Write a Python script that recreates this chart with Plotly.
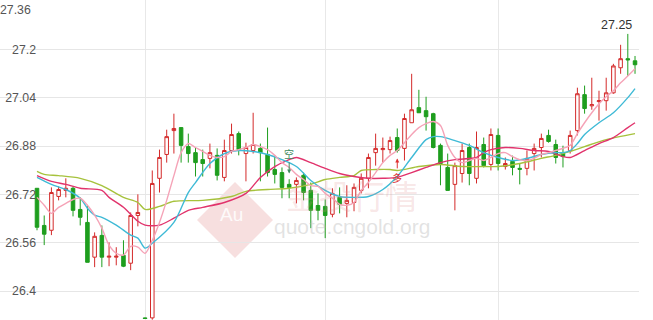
import plotly.graph_objects as go

# ---------------- data ----------------
idx = list(range(84))
opens = [26.740,26.617,26.601,26.713,26.733,26.740,26.670,26.627,26.512,26.584,
         26.512,26.512,26.518,26.492,26.650,26.311,26.311,26.773,26.852,26.931,
         26.941,26.878,26.858,26.835,26.839,26.849,26.776,26.865,26.921,26.855,
         26.865,26.872,26.852,26.802,26.792,26.753,26.753,26.783,26.733,26.683,
         26.680,26.654,26.710,26.690,26.693,26.733,26.773,26.858,26.868,26.868,
         26.908,26.872,26.957,27.007,26.997,26.987,26.882,26.809,26.753,26.789,
         26.875,26.773,26.885,26.819,26.915,26.812,26.829,26.806,26.806,26.855,
         26.875,26.915,26.885,26.858,26.865,26.931,27.050,27.013,27.027,27.030,
         27.056,27.139,27.169,27.162]
highs = [26.740,26.650,26.743,26.746,26.773,26.746,26.710,26.683,26.594,26.617,
         26.561,26.545,26.568,26.660,26.720,26.312,26.799,26.868,26.934,26.987,
         26.941,26.921,26.875,26.868,26.888,26.872,26.901,26.954,26.928,26.891,
         26.990,26.888,26.941,26.849,26.809,26.770,26.776,26.792,26.759,26.723,
         26.703,26.740,26.743,26.750,26.756,26.789,26.855,26.921,26.908,26.911,
         26.938,26.987,27.119,27.066,27.043,26.990,26.888,26.855,26.825,26.888,
         26.888,26.928,26.908,26.938,26.938,26.842,26.848,26.822,26.865,26.888,
         26.921,26.934,26.901,26.881,26.931,27.073,27.080,27.106,27.063,27.106,
         27.152,27.215,27.251,27.178]
lows = [26.601,26.552,26.585,26.700,26.710,26.647,26.617,26.495,26.479,26.479,
        26.482,26.485,26.479,26.469,26.614,26.309,26.305,26.726,26.825,26.855,
        26.825,26.825,26.779,26.779,26.806,26.766,26.763,26.855,26.849,26.763,
        26.855,26.763,26.779,26.756,26.707,26.707,26.690,26.700,26.608,26.634,
        26.575,26.644,26.657,26.644,26.664,26.723,26.740,26.815,26.825,26.855,
        26.858,26.832,26.957,26.990,26.931,26.872,26.750,26.733,26.667,26.759,
        26.750,26.756,26.809,26.799,26.799,26.802,26.783,26.753,26.783,26.799,
        26.842,26.891,26.822,26.809,26.855,26.915,26.987,27.000,26.964,26.997,
        27.053,27.119,27.112,27.119]
closes = [26.611,26.588,26.726,26.736,26.740,26.667,26.644,26.495,26.581,26.512,
          26.515,26.515,26.482,26.650,26.660,26.309,26.756,26.842,26.911,26.938,
          26.882,26.855,26.825,26.822,26.858,26.783,26.865,26.918,26.868,26.875,
          26.885,26.858,26.792,26.786,26.743,26.743,26.766,26.726,26.667,26.667,
          26.650,26.723,26.687,26.700,26.743,26.773,26.842,26.872,26.872,26.898,
          26.865,26.971,27.000,26.990,26.977,26.875,26.822,26.733,26.815,26.865,
          26.789,26.875,26.815,26.918,26.822,26.822,26.809,26.803,26.839,26.872,
          26.905,26.895,26.842,26.845,26.915,27.053,27.004,27.017,27.030,27.056,
          27.145,27.169,27.165,27.149]

ma_pink_idx = list(range(84))
ma_pink = [26.710,26.684,26.657,26.677,26.690,26.703,26.707,26.684,26.651,26.608,
           26.552,26.525,26.519,26.548,26.545,26.525,26.568,26.627,26.700,26.782,
           26.858,26.888,26.875,26.862,26.849,26.842,26.845,26.862,26.868,26.875,
           26.885,26.878,26.868,26.849,26.825,26.809,26.786,26.769,26.749,26.746,
           26.723,26.707,26.687,26.684,26.693,26.733,26.759,26.792,26.825,26.849,
           26.865,26.891,26.918,26.941,26.954,26.961,26.948,26.882,26.842,26.825,
           26.832,26.839,26.832,26.842,26.855,26.858,26.845,26.835,26.832,26.839,
           26.852,26.858,26.865,26.872,26.882,26.921,26.957,26.990,27.020,27.043,
           27.063,27.089,27.112,27.136]

ma_cyan_idx = [0,2,4,6,7,8,9,11,13,14,15,16,19,21,22,24,26,28,30,32,34,36,38,40,42,
               44,46,48,50,52,54,55,56,58,60,62,64,66,68,70,72,73,74,75,76,78,80,82,83]
ma_cyan = [26.776,26.753,26.736,26.707,26.674,26.651,26.644,26.618,26.585,26.575,
           26.542,26.558,26.627,26.726,26.759,26.822,26.855,26.865,26.862,26.852,
           26.835,26.812,26.766,26.733,26.713,26.710,26.713,26.736,26.779,26.842,
           26.901,26.911,26.911,26.898,26.882,26.858,26.842,26.832,26.839,26.852,
           26.858,26.858,26.865,26.888,26.918,26.957,26.990,27.040,27.070]

ma_red_idx = [0,2,4,6,9,10,12,14,15,17,19,21,23,26,29,31,33,35,36,38,40,42,44,46,48,
              50,52,54,56,58,61,62,63,65,67,69,71,73,74,76,78,80,82,83]
ma_red = [26.782,26.763,26.753,26.740,26.733,26.710,26.677,26.631,26.618,26.618,
          26.641,26.667,26.677,26.693,26.723,26.776,26.812,26.835,26.842,26.825,
          26.806,26.789,26.779,26.773,26.773,26.776,26.792,26.809,26.825,26.835,
          26.842,26.858,26.868,26.875,26.872,26.865,26.862,26.845,26.842,26.865,
          26.888,26.908,26.941,26.957]

ma_olive_idx = [0,1,3,6,9,12,14,15,17,19,23,27,29,32,35,38,40,42,44,45,47,49,50,53,
                56,59,62,64,67,70,72,74,76,79,83]
ma_olive = [26.796,26.786,26.782,26.773,26.749,26.710,26.693,26.670,26.680,26.697,
            26.700,26.713,26.730,26.736,26.740,26.753,26.769,26.776,26.782,26.799,
            26.802,26.802,26.799,26.812,26.819,26.812,26.812,26.812,26.822,26.839,
            26.849,26.862,26.878,26.901,26.921]

ytick_vals = [26.4, 26.56, 26.72, 26.88, 27.04, 27.2, 27.36]
ytick_text = ["26.4", "26.56", "26.72", "26.88", "27.04", "27.2", ""]
vgrid_idx = [15, 40, 64]

RED = "#d42a2a"
GREEN = "#1e9e1e"

# ---------------- figure ----------------
W, H = 653, 320
PW = 639  # plot area width (px)

fig = go.Figure()
fig.add_trace(go.Candlestick(
    x=idx, open=opens, high=highs, low=lows, close=closes,
    increasing=dict(line=dict(color=RED, width=1), fillcolor="white"),
    decreasing=dict(line=dict(color=GREEN, width=1), fillcolor=GREEN),
    whiskerwidth=0, hoverinfo="skip", showlegend=False))

for xs, ys, col in [(ma_olive_idx, ma_olive, "#a6c23c"),
                    (ma_red_idx, ma_red, "#e1336c"),
                    (ma_cyan_idx, ma_cyan, "#3fbad6"),
                    (ma_pink_idx, ma_pink, "#f5a3b7")]:
    fig.add_trace(go.Scatter(x=xs, y=ys, mode="lines",
                             line=dict(color=col, width=1.4, shape="spline", smoothing=0.8),
                             hoverinfo="skip", showlegend=False))

def px(x):
    return x / PW

def py(y):
    return 1 - y / H

shapes = [dict(type="path", xref="paper", yref="paper", layer="below",
               path=f"M {px(197)} {py(220)} L {px(235)} {py(182)} L {px(273)} {py(220)} L {px(235)} {py(258)} Z",
               fillcolor="rgba(228,150,150,0.30)", line=dict(width=0))]

TICKFONT = dict(size=12.3, color="#555555", family="Liberation Sans, Arial")

imax = highs.index(max(highs))
annotations = [
    dict(xref="paper", yref="paper", x=px(352), y=py(195), text="金投行情", showarrow=False,
         font=dict(size=33, color="rgba(225,150,150,0.24)", family="Noto Sans CJK SC")),
    dict(xref="paper", yref="paper", x=px(352), y=py(240), text="quote.cngold.org", showarrow=False,
         font=dict(size=21, color="rgba(180,180,180,0.38)", family="Liberation Sans, Arial")),
    dict(xref="paper", yref="paper", x=px(231), y=py(227), text="Au", showarrow=False,
         font=dict(size=19, color="rgba(255,255,255,0.85)", family="Liberation Sans, Arial")),
    dict(xref="paper", yref="paper", x=px(33), y=py(10), xanchor="right", yanchor="middle",
         text="27.36", showarrow=False, font=TICKFONT),
    dict(x=idx[imax], y=highs[imax], xref="x", yref="y", text=f"{highs[imax]:.2f}", showarrow=False,
         xanchor="center", yanchor="bottom", xshift=-11, yshift=0,
         font=dict(size=12.5, color="#333333", family="Liberation Sans, Arial")),
    dict(x=35, y=26.789, xref="x", yref="y", text="空", showarrow=True, ax=0, ay=-20,
         arrowhead=2, arrowsize=0.8, arrowwidth=1, arrowcolor="#3d8a5e",
         font=dict(size=10, color="#3d8a5e", family="Noto Sans CJK SC")),
    dict(x=50, y=26.839, xref="x", yref="y", text="多", showarrow=True, ax=0, ay=19,
         arrowhead=2, arrowsize=0.8, arrowwidth=1, arrowcolor="#e03030",
         font=dict(size=10, color="#e03030", family="Noto Sans CJK SC")),
]

fig.update_layout(
    width=W, height=H,
    margin=dict(l=0, r=W - PW, t=0, b=0),
    paper_bgcolor="white", plot_bgcolor="white",
    showlegend=False,
    xaxis=dict(range=[-37 / 7.205, (PW - 37) / 7.205], domain=[0, 1],
               tickvals=vgrid_idx, showticklabels=False, ticks="",
               showgrid=True, gridcolor="#e8e8e8", gridwidth=1,
               zeroline=False, showline=False, rangeslider=dict(visible=False),
               fixedrange=True),
    yaxis=dict(range=[26.304, 27.3633], anchor="free", position=36 / PW, side="left",
               tickvals=ytick_vals, ticktext=ytick_text, ticks="",
               showgrid=True, gridcolor="#e6e6e6", gridwidth=1,
               zeroline=False, showline=False, fixedrange=True,
               tickfont=TICKFONT),
    shapes=shapes,
    annotations=annotations,
)

fig.write_html("out.html", config={"displayModeBar": False})
